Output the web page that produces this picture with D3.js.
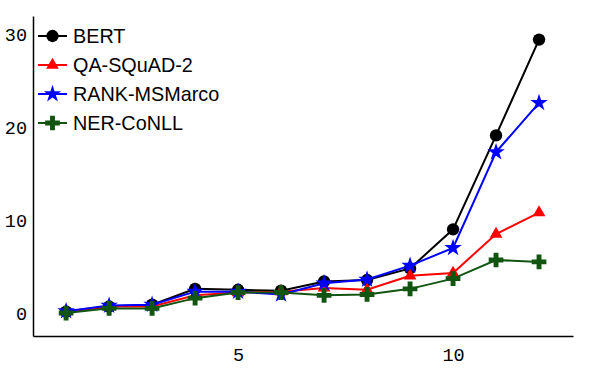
<!DOCTYPE html>
<html>
<head>
<meta charset="utf-8">
<script src="https://cdn.jsdelivr.net/npm/d3@7"></script>
<style>
  body { margin: 0; background: #fff; }
  .tick text { font-family: "Liberation Mono", "DejaVu Sans Mono", monospace; font-size: 18.5px; fill: #000; }
</style>
</head>
<body>
<svg id="drawing_region"></svg>
<script>
const steps = [1, 2, 3, 4, 5, 6, 7, 8, 9, 10, 11, 12];
const bert = [0.25, 0.8, 1.0, 2.7, 2.6, 2.5, 3.5, 3.65, 4.9, 9.1, 19.2, 29.5];
const qaSquad = [0.3, 0.8, 0.8, 2.0, 2.3, 2.4, 2.8, 2.6, 4.1, 4.4, 8.6, 10.9];
const rankMsmarco = [0.3, 0.9, 1.0, 2.4, 2.4, 2.1, 3.3, 3.7, 5.2, 7.1, 17.4, 22.7];
const nerConll = [0.1, 0.6, 0.6, 1.7, 2.3, 2.3, 2.0, 2.1, 2.7, 3.8, 5.8, 5.6];
const xTicks = [5, 10];
const yTicks = [0, 10, 20, 30];

const seriesNames = ['BERT', 'QA-SQuAD-2', 'RANK-MSMarco', 'NER-CoNLL'];
const seriesValues = [bert, qaSquad, rankMsmarco, nerConll];
const colors = ['#000000', '#ff0000', '#0000ff', '#115511'];
const symbols = [d3.symbolCircle, d3.symbolTriangle, d3.symbolStar, d3.symbolCross];
const symbolSizes = [120, 70, 95, 120];

var width = 592;
var height = 370;
var margin = {top: 16, right: 19, bottom: 34, left: 33};

var svg = d3.select('#drawing_region')
    .attr('width', width)
    .attr('height', height);

const inner_width = width - margin.left - margin.right;
const inner_height = height - margin.top - margin.bottom;

const chart = svg.append('g')
    .attr('transform', `translate(${margin.left}, ${margin.top})`);

const xscale = d3.scaleLinear()
    .domain([0.23, 12.79])
    .range([0, inner_width]);

const yscale = d3.scaleLinear()
    .domain([-2.37, 32.04])
    .range([inner_height, 0]);

const xaxis = d3.axisBottom(xscale).tickValues(xTicks).tickSize(0).tickPadding(12);
const yaxis = d3.axisLeft(yscale).tickValues(yTicks).tickSize(0).tickPadding(6);

const xg = chart.append('g')
    .attr('transform', `translate(0, ${inner_height})`)
    .call(xaxis);
xg.select('.domain').attr('stroke', '#000').attr('stroke-width', 1.5);

const yg = chart.append('g').call(yaxis);
yg.select('.domain').attr('stroke', '#000').attr('stroke-width', 1.5);

const series = seriesNames.map((name, i) => ({
    name: name,
    color: colors[i],
    symbol: symbols[i],
    size: symbolSizes[i],
    values: steps.map((s, j) => ({step: s, value: seriesValues[i][j]}))
}));

const line = d3.line()
    .x(d => xscale(d.step))
    .y(d => yscale(d.value));

series.forEach(s => {
    const g = chart.append('g');
    g.append('path')
        .attr('d', line(s.values))
        .attr('fill', 'none')
        .attr('stroke', s.color)
        .attr('stroke-width', 2);
    g.selectAll('path.marker')
        .data(s.values)
        .enter().append('path')
        .attr('class', 'marker')
        .attr('d', d3.symbol().type(s.symbol).size(s.size))
        .attr('transform', d => `translate(${xscale(d.step)}, ${yscale(d.value)})`)
        .attr('fill', s.color);
});

// legend
const legend = svg.append('g')
    .attr('transform', 'translate(38, 36)');

series.forEach((s, i) => {
    const row = legend.append('g')
        .attr('transform', `translate(0, ${i * 29})`);
    row.append('line')
        .attr('x1', 0).attr('x2', 29)
        .attr('stroke', s.color)
        .attr('stroke-width', 2);
    row.append('path')
        .attr('d', d3.symbol().type(s.symbol).size(s.size))
        .attr('transform', 'translate(14.5, 0)')
        .attr('fill', s.color);
    row.append('text')
        .attr('x', 35)
        .attr('y', 0)
        .attr('dy', '0.35em')
        .style('font-family', '"Liberation Sans", Arial, sans-serif')
        .style('font-size', '19.8px')
        .text(s.name);
});
</script>
</body>
</html>
